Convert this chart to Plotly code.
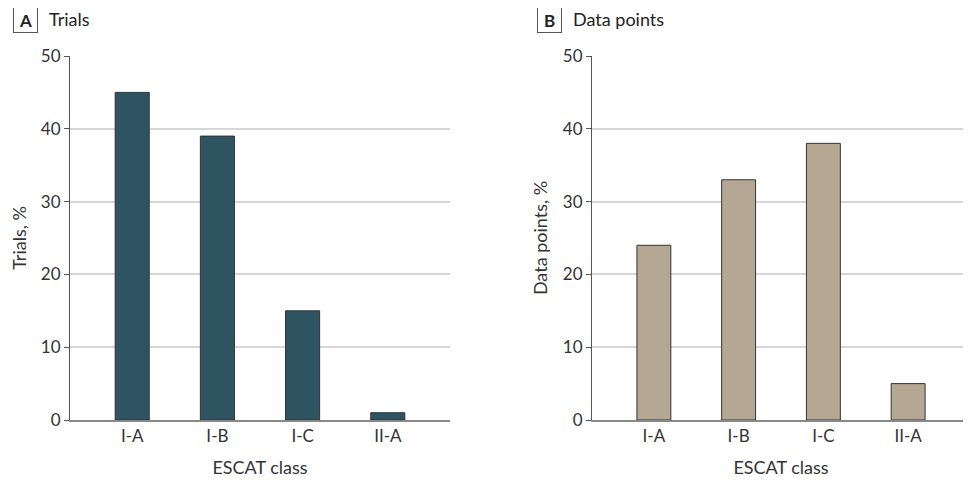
import plotly.graph_objects as go

categories = ["I-A", "I-B", "I-C", "II-A"]
trials_pct = [45, 39, 15, 1]
datapoints_pct = [24, 33, 38, 5]
y_ticks = [0, 10, 20, 30, 40, 50]

W, H = 971, 486
OFF = 8  # page body margin
FONT = "Lato"


def px(x):
    return (x - OFF) / W


def py(y):
    return 1 - (y - OFF) / H


fig = go.Figure()
fig.add_trace(go.Bar(x=categories, y=trials_pct, marker=dict(color="#2E5461", line=dict(color="#333333", width=1)),
                     width=0.4, xaxis="x", yaxis="y", showlegend=False))
fig.add_trace(go.Bar(x=categories, y=datapoints_pct, marker=dict(color="#B4A895", line=dict(color="#333333", width=1)),
                     width=0.4, xaxis="x2", yaxis="y2", showlegend=False))

ydom = [py(420), py(56)]
common_y = dict(range=[0, 50], tickvals=y_ticks, showgrid=True, gridcolor="#d6d6d6", gridwidth=1.5,
                showline=True, linecolor="#555555", linewidth=1, ticks="outside", ticklen=5, tickcolor="#555555",
                tickfont=dict(size=17, color="#333333", family=FONT), zeroline=False, domain=ydom, automargin=False)
common_x = dict(type="category", range=[-0.73, 3.73], showline=True, linecolor="#888888", linewidth=1.5,
                ticks="", tickfont=dict(size=17, color="#333333", family=FONT), automargin=False,
                title=dict(text="ESCAT class", font=dict(size=18, color="#333333", family=FONT), standoff=16))

fig.update_layout(
    width=W, height=H, margin=dict(l=0, r=0, t=0, b=0, autoexpand=False),
    paper_bgcolor="white", plot_bgcolor="white",
    xaxis=dict(domain=[px(70), px(450)], anchor="y", **common_x),
    xaxis2=dict(domain=[px(592), px(970)], anchor="y2", **common_x),
    yaxis=dict(anchor="x", title=dict(text="Trials, %", font=dict(size=18, color="#333333", family=FONT), standoff=10), **common_y),
    yaxis2=dict(anchor="x2", title=dict(text="Data points, %", font=dict(size=18, color="#333333", family=FONT), standoff=10), **common_y),
    bargap=0.6,
)

for label, title, x0 in [("A", "Trials", 13), ("B", "Data points", 537)]:
    fig.add_annotation(x=px(x0), y=py(20), xref="paper", yref="paper", xanchor="left", yanchor="middle",
                       text="<b>%s</b>" % label, showarrow=False, font=dict(size=17, color="#222222", family=FONT),
                       bordercolor="#555555", borderwidth=1, borderpad=2, width=19, height=20)
    fig.add_annotation(x=px(x0 + 34), y=py(19), xref="paper", yref="paper", xanchor="left", yanchor="middle",
                       text=title, showarrow=False, font=dict(size=18, color="#222222", family=FONT))

fig.write_html("out.html")
